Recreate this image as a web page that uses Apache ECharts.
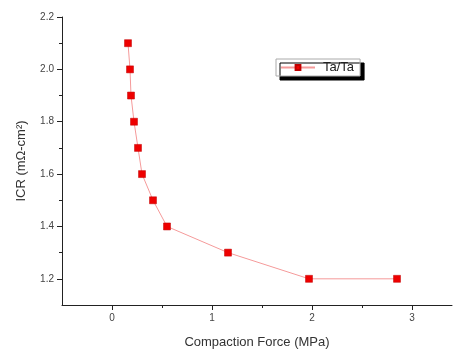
<!DOCTYPE html>
<html>
<head>
<meta charset="utf-8">
<script src="https://cdn.jsdelivr.net/npm/echarts@6/dist/echarts.min.js"></script>
<style>
html, body { margin: 0; padding: 0; background: #fff; }
#chart { width: 453px; height: 354px; }
</style>
</head>
<body>
<div id="chart"></div>
<script>
// Ta/Ta curve: compaction force (MPa) vs ICR (mOhm-cm2)
const force = [0.16, 0.18, 0.19, 0.22, 0.26, 0.30, 0.41, 0.55, 1.16, 1.97, 2.85];
const icr = [2.1, 2.0, 1.9, 1.8, 1.7, 1.6, 1.5, 1.4, 1.3, 1.2, 1.2];
const xMajor = [0, 1, 2, 3];
const xMinor = [0.5, 1.5, 2.5];
const yMajor = [1.2, 1.4, 1.6, 1.8, 2.0, 2.2];
const yMinor = [1.3, 1.5, 1.7, 1.9, 2.1];

const chart = echarts.init(document.getElementById('chart'));
const font = 'Liberation Sans, Arial, sans-serif';
const axisLine = {show: true, onZero: false, lineStyle: {color: '#222', width: 1}};

chart.setOption({
	animation: false,
	grid: {left: 62, right: 1, top: 17, bottom: 47},
	legend: {
		data: ['Ta/Ta'],
		left: 276,
		top: 59,
		padding: [2, 6, 2, 4],
		itemWidth: 34,
		itemHeight: 6,
		itemGap: 4,
		backgroundColor: '#fff',
		borderColor: '#aaa',
		borderWidth: 1,
		borderRadius: 0,
		shadowColor: '#000',
		shadowBlur: 0,
		shadowOffsetX: 4,
		shadowOffsetY: 4,
		textStyle: {fontFamily: font, fontSize: 13, color: '#222', padding: [0, 0, 0, 3]},
	},
	xAxis: [
		{
			type: 'value',
			min: -0.5,
			max: 3.4,
			name: 'Compaction Force (MPa)',
			nameLocation: 'middle',
			nameGap: 31,
			nameTextStyle: {fontFamily: font, fontSize: 13, color: '#333'},
			axisLine,
			axisTick: {show: true, inside: false, length: 5, customValues: xMajor, lineStyle: {color: '#222'}},
			axisLabel: {customValues: xMajor, fontFamily: font, fontSize: 10, color: '#444', margin: 8},
			splitLine: {show: false},
		},
		{
			type: 'value',
			position: 'bottom',
			offset: 0,
			min: -0.5,
			max: 3.4,
			axisLine: {show: false, onZero: false},
			axisTick: {show: true, inside: false, length: 3, customValues: xMinor, lineStyle: {color: '#222'}},
			axisLabel: {show: false},
			splitLine: {show: false},
		},
	],
	yAxis: [
		{
			type: 'value',
			min: 1.1,
			max: 2.2,
			name: 'ICR (mΩ-cm²)',
			nameLocation: 'middle',
			nameGap: 34,
			nameTextStyle: {fontFamily: font, fontSize: 13, color: '#333'},
			axisLine,
			axisTick: {show: true, inside: false, length: 5, customValues: yMajor, lineStyle: {color: '#222'}},
			axisLabel: {
				customValues: yMajor,
				fontFamily: font,
				fontSize: 10,
				color: '#444',
				margin: 8,
				formatter: v => v.toFixed(1),
			},
			splitLine: {show: false},
		},
		{
			type: 'value',
			position: 'left',
			offset: 0,
			min: 1.1,
			max: 2.2,
			axisLine: {show: false, onZero: false},
			axisTick: {show: true, inside: false, length: 3, customValues: yMinor, lineStyle: {color: '#222'}},
			axisLabel: {show: false},
			splitLine: {show: false},
		},
	],
	series: [
		{
			name: 'Ta/Ta',
			type: 'line',
			data: force.map((f, i) => [f, icr[i]]),
			symbol: 'rect',
			symbolSize: 7,
			showAllSymbol: true,
			lineStyle: {color: '#f59a9a', width: 1},
			itemStyle: {color: '#ee0000', borderColor: '#c00000', borderWidth: 0.5},
		},
	],
});
</script>
</body>
</html>
